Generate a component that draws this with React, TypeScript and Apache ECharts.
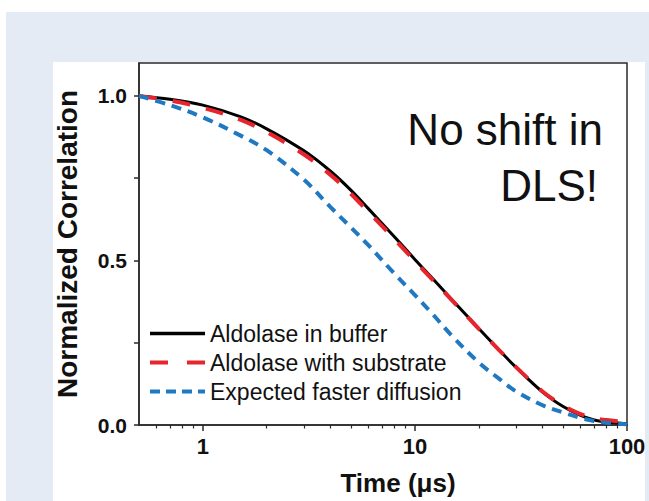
import React, { useEffect, useRef } from "react";
import * as echarts from "echarts";

const times = [0.5, 0.7, 1, 1.5, 2, 3, 4, 5, 6, 8, 10, 12, 15, 20, 25, 30, 40, 50, 60, 70, 80, 100];
const bufferVals = [1.0, 0.99, 0.972, 0.937, 0.9, 0.833, 0.771, 0.713, 0.659, 0.572, 0.503, 0.448, 0.38, 0.293, 0.227, 0.175, 0.1, 0.056, 0.03, 0.015, 0.009, 0.004];
const substrateVals = [1.0, 0.986, 0.964, 0.928, 0.89, 0.822, 0.76, 0.702, 0.649, 0.565, 0.498, 0.444, 0.378, 0.292, 0.227, 0.176, 0.102, 0.059, 0.034, 0.021, 0.015, 0.009];
const fasterVals = [1.0, 0.972, 0.935, 0.88, 0.835, 0.745, 0.662, 0.6, 0.548, 0.46, 0.395, 0.34, 0.27, 0.19, 0.14, 0.102, 0.06, 0.038, 0.022, 0.012, 0.007, 0.002];
const seriesNames = ["Aldolase in buffer", "Aldolase with substrate", "Expected faster diffusion"];
const xMajorTicks = [1, 10, 100];
const xMinorTicks = [0.6, 0.7, 0.8, 0.9, 2, 3, 4, 5, 6, 7, 8, 9, 20, 30, 40, 50, 60, 70, 80, 90];
const yTicks = [0, 0.25, 0.5, 0.75, 1.0];
const yLabels = [0, 0.5, 1.0];

const FONT = "'Liberation Sans', Arial, Helvetica, sans-serif";
const BLACK = "#000000";
const RED = "#e8252c";
const BLUE = "#1f78c2";

function pairs(vals: number[]) {
  return times.map((t, i) => [t, vals[i]]);
}

export default function App() {
  const ref = useRef<HTMLDivElement>(null);
  useEffect(() => {
    if (!ref.current) return;
    const chart = echarts.init(ref.current, null, { renderer: "svg" });
    const axisColor = "#2a2a2a";
    chart.setOption({
      animation: false,
      backgroundColor: "transparent",
      textStyle: { fontFamily: FONT },
      grid: {
        left: 139,
        top: 63,
        right: 22,
        bottom: 74,
        show: true,
        borderColor: axisColor,
        borderWidth: 1.5,
        backgroundColor: "#ffffff",
      },
      legend: {
        orient: "vertical",
        left: 148,
        top: 322,
        itemWidth: 55,
        itemHeight: 14,
        itemGap: 6,
        padding: 0,
        itemStyle: { opacity: 0 },
        textStyle: { fontSize: 23, color: "#111", fontFamily: FONT, lineHeight: 23 },
        data: [
          { name: seriesNames[0], lineStyle: { color: BLACK, width: 3.5, type: "solid" } },
          { name: seriesNames[1], lineStyle: { color: RED, width: 4, type: [18, 19] } },
          { name: seriesNames[2], lineStyle: { color: BLUE, width: 4, type: [10, 6] } },
        ],
      },
      xAxis: [
        {
          type: "log",
          logBase: 10,
          min: 0.5,
          max: 100,
          position: "bottom",
          axisLine: { show: true, lineStyle: { color: axisColor, width: 1.5 } },
          axisTick: { show: true, inside: false, length: 6, customValues: xMajorTicks, lineStyle: { color: axisColor, width: 1.5 } },
          axisLabel: {
            customValues: xMajorTicks,
            margin: 10,
            fontSize: 22,
            fontWeight: "bold",
            color: "#111",
            fontFamily: FONT,
            formatter: (v: number) => String(Math.round(v)),
          },
          splitLine: { show: false },
          minorTick: { show: false },
          name: "Time (μs)",
          nameLocation: "middle",
          nameGap: 45,
          nameTextStyle: { fontSize: 26, fontWeight: "bold", color: "#111", fontFamily: FONT, padding: [0, 0, 0, 30] },
        },
        {
          type: "log",
          logBase: 10,
          min: 0.5,
          max: 100,
          position: "bottom",
          axisLine: { show: false },
          axisTick: { show: true, inside: false, length: 3.5, customValues: xMinorTicks, lineStyle: { color: axisColor, width: 1.2 } },
          axisLabel: { show: false },
          splitLine: { show: false },
        },
      ],
      yAxis: {
        type: "value",
        min: 0,
        max: 1.1,
        interval: 0.25,
        axisLine: { show: true, lineStyle: { color: axisColor, width: 1.5 } },
        axisTick: { show: true, inside: false, length: 5, customValues: yTicks, lineStyle: { color: axisColor, width: 1.5 } },
        axisLabel: {
          customValues: yLabels,
          margin: 12,
          fontSize: 21,
          fontWeight: "bold",
          color: "#111",
          fontFamily: FONT,
          formatter: (v: number) => v.toFixed(1),
        },
        splitLine: { show: false },
        name: "Normalized Correlation",
        nameLocation: "middle",
        nameGap: 58,
        nameTextStyle: { fontSize: 28, fontWeight: "bold", color: "#111", fontFamily: FONT },
      },
      graphic: [
        {
          type: "text",
          right: 46,
          top: 107,
          style: {
            text: "No shift in",
            font: `44px ${FONT}`,
            fill: "#111",
            textAlign: "right",
          },
          z: 100,
        },
        {
          type: "text",
          right: 51,
          top: 163,
          style: {
            text: "DLS!",
            font: `44px ${FONT}`,
            fill: "#111",
            textAlign: "right",
          },
          z: 100,
        },
      ],
      series: [
        {
          name: seriesNames[0],
          type: "line",
          data: pairs(bufferVals),
          showSymbol: false,
          symbol: "none",
          smooth: 0.35,
          lineStyle: { color: BLACK, width: 3 },
          itemStyle: { color: BLACK },
          z: 3,
        },
        {
          name: seriesNames[1],
          type: "line",
          data: pairs(substrateVals),
          showSymbol: false,
          symbol: "none",
          smooth: 0.35,
          lineStyle: { color: RED, width: 4, type: [18, 16] },
          itemStyle: { color: RED },
          z: 4,
        },
        {
          name: seriesNames[2],
          type: "line",
          data: pairs(fasterVals),
          showSymbol: false,
          symbol: "none",
          smooth: 0.35,
          lineStyle: { color: BLUE, width: 4, type: [10, 7] },
          itemStyle: { color: BLUE },
          z: 5,
        },
      ],
    });
    return () => chart.dispose();
  }, []);

  return (
    <div style={{ position: "absolute", left: 0, top: 0, width: 649, height: 501, background: "#ffffff", overflow: "hidden" }}>
      <div style={{ position: "absolute", left: 6, top: 12, width: 643, height: 489, background: "#e4ebf5" }} />
      <div style={{ position: "absolute", left: 53, top: 62, width: 592, height: 439, background: "#ffffff" }} />
      <div ref={ref} style={{ position: "absolute", left: 0, top: 0, width: 649, height: 501 }} />
    </div>
  );
}
